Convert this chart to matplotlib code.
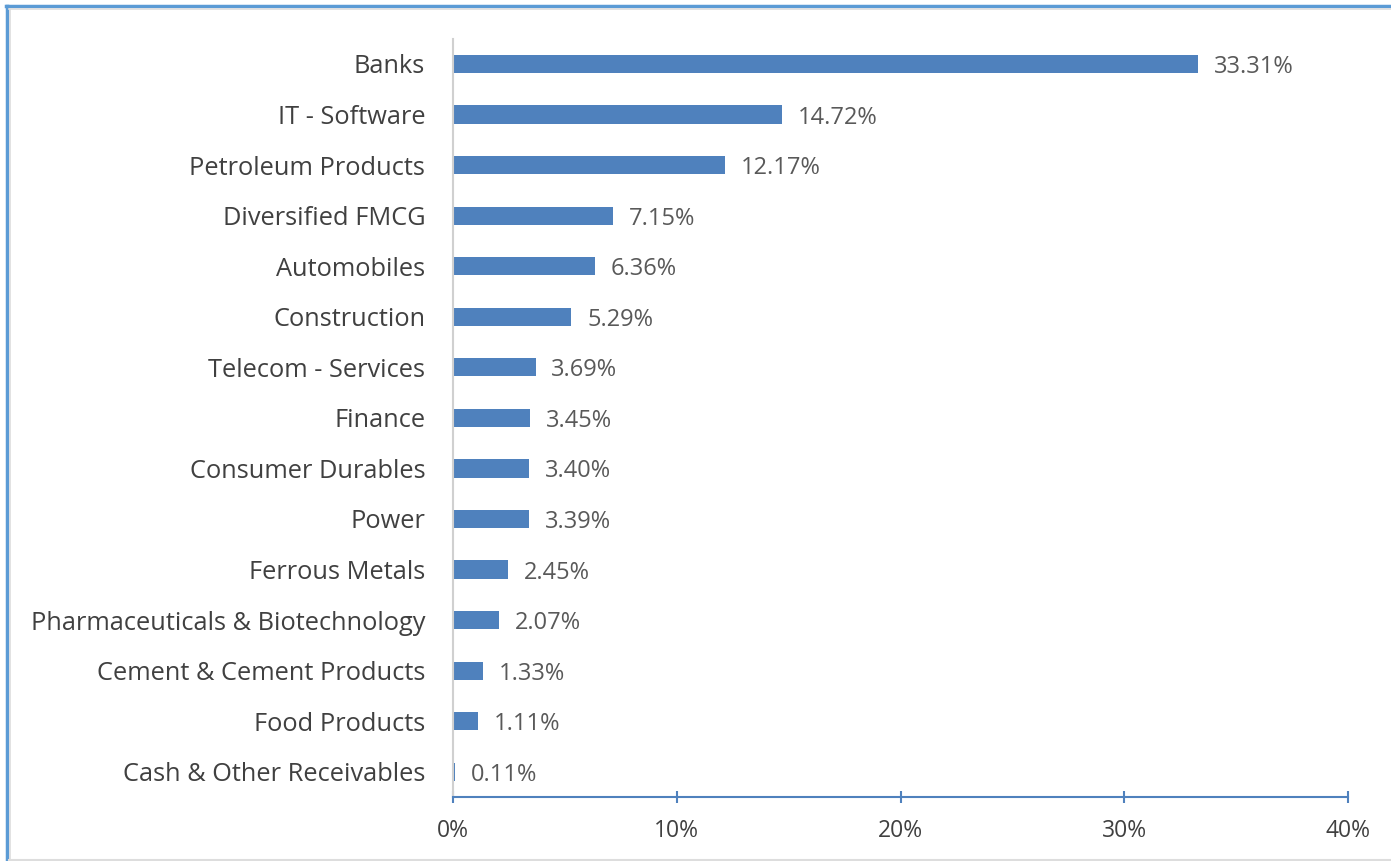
import matplotlib
matplotlib.use('Agg')
import matplotlib.pyplot as plt
from matplotlib.lines import Line2D
from matplotlib.ticker import FuncFormatter

sectors = ['Banks', 'IT - Software', 'Petroleum Products', 'Diversified FMCG',
           'Automobiles', 'Construction', 'Telecom - Services', 'Finance',
           'Consumer Durables', 'Power', 'Ferrous Metals',
           'Pharmaceuticals & Biotechnology', 'Cement & Cement Products',
           'Food Products', 'Cash & Other Receivables']
weights = [33.31, 14.72, 12.17, 7.15, 6.36, 5.29, 3.69, 3.45,
           3.40, 3.39, 2.45, 2.07, 1.33, 1.11, 0.11]
x_ticks = [0, 10, 20, 30, 40]

plt.rcParams['font.family'] = ['Open Sans', 'DejaVu Sans']

fig = plt.figure(figsize=(13.91, 8.61), dpi=100)
ax = fig.add_axes([453 / 1391, 1 - 797 / 861, (1348 - 453) / 1391, (797 - 38.7) / 861])

pos = list(range(len(sectors)))
ax.barh(pos, weights, height=0.36, color='#4F81BD')
ax.set_ylim(len(sectors) - 0.5, -0.5)
ax.set_xlim(0, 40)

for p, w in zip(pos, weights):
    ax.text(w + 0.7, p, f'{w:.2f}%', va='center_baseline', ha='left',
            fontsize=17, color='#595959')

ax.set_yticks(pos)
ax.set_yticklabels(sectors, fontsize=18.3, color='#404040', va='center_baseline')
ax.tick_params(axis='y', length=0, pad=20)

ax.set_xticks(x_ticks)
ax.xaxis.set_major_formatter(FuncFormatter(lambda v, _: f'{v:.0f}%'))
ax.tick_params(axis='x', direction='inout', length=9, width=1.5, color='#4F81BD',
               labelsize=16.5, labelcolor='#404040', pad=11)

for s in ['top', 'right']:
    ax.spines[s].set_visible(False)
ax.spines['bottom'].set_color('#4F81BD')
ax.spines['bottom'].set_linewidth(1.5)
ax.spines['left'].set_color('#D0D0D0')
ax.spines['left'].set_linewidth(1.5)

# outer chart frame
fig.add_artist(Line2D([6 / 1391, 1], [1 - 6 / 861, 1 - 6 / 861], color='#5B9BD5', lw=2.5))
fig.add_artist(Line2D([7 / 1391, 7 / 1391], [0, 1 - 6 / 861], color='#5B9BD5', lw=2.5))
fig.add_artist(Line2D([9 / 1391, 1], [1 - 9 / 861, 1 - 9 / 861], color='#DDDDDD', lw=1.2))
fig.add_artist(Line2D([9.5 / 1391, 9.5 / 1391], [0, 1 - 9 / 861], color='#DDDDDD', lw=1.2))
fig.add_artist(Line2D([9 / 1391, 1], [1.5 / 861, 1.5 / 861], color='#DDDDDD', lw=1.5))

fig.savefig('out.png', dpi=100)
